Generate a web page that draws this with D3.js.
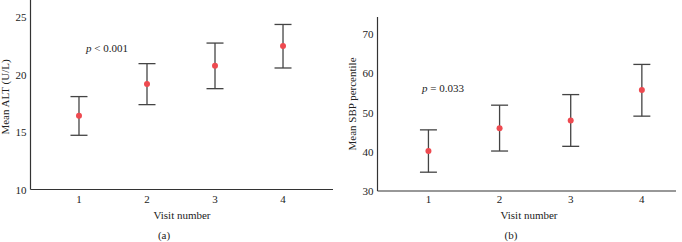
<!DOCTYPE html>
<html><head><meta charset="utf-8">
<script src="https://cdn.jsdelivr.net/npm/d3@7"></script>
<style>body{margin:0;background:#fff}svg{display:block}text{font-family:"Liberation Serif","DejaVu Serif",serif;fill:#222}</style>
</head><body><svg id="c" width="682" height="242"></svg>
<script>
const visits = [1, 2, 3, 4];
const altMean = [16.43, 19.19, 20.78, 22.49];
const altUpper = [18.09, 20.96, 22.75, 24.37];
const altLower = [14.72, 17.39, 18.78, 20.58];
const altTicks = [10, 15, 20, 25];
const sbpMean = [40.2, 46.0, 48.0, 55.8];
const sbpUpper = [45.6, 51.9, 54.6, 62.3];
const sbpLower = [34.8, 40.2, 41.4, 49.1];
const sbpTicks = [30, 40, 50, 60, 70];

const svg = d3.select("#c");

function panel(o) {
  const g = svg.append("g");
  const x = d3.scaleLinear().domain(o.xDomain).range([o.x0, o.x1]);
  const y = d3.scaleLinear().domain(o.yDomain).range([o.y0, o.y1]);
  // axes lines
  g.append("line").attr("x1", o.x0).attr("x2", o.x0).attr("y1", o.y0).attr("y2", o.y1).attr("stroke", "#333").attr("stroke-width", 1.2);
  g.append("line").attr("x1", o.x0).attr("x2", o.x1).attr("y1", o.y0).attr("y2", o.y0).attr("stroke", "#333").attr("stroke-width", 1.2);
  // tick labels
  g.selectAll(".yt").data(o.ticks).enter().append("text")
    .attr("x", o.x0 - 4).attr("y", d => y(d) + 4).attr("text-anchor", "end").attr("font-size", 11).text(d => d);
  g.selectAll(".xt").data(visits).enter().append("text")
    .attr("x", d => x(d)).attr("y", 203).attr("text-anchor", "middle").attr("font-size", 11).text(d => d);
  // error bars
  const cap = 8.5;
  const eb = g.selectAll(".eb").data(visits.map((v, i) => ({v, m: o.mean[i], u: o.upper[i], l: o.lower[i]}))).enter().append("g");
  eb.append("line").attr("x1", d => x(d.v)).attr("x2", d => x(d.v)).attr("y1", d => y(d.u)).attr("y2", d => y(d.l)).attr("stroke", "#444").attr("stroke-width", 1.3);
  eb.append("line").attr("x1", d => x(d.v) - cap).attr("x2", d => x(d.v) + cap).attr("y1", d => y(d.u)).attr("y2", d => y(d.u)).attr("stroke", "#444").attr("stroke-width", 1.3);
  eb.append("line").attr("x1", d => x(d.v) - cap).attr("x2", d => x(d.v) + cap).attr("y1", d => y(d.l)).attr("y2", d => y(d.l)).attr("stroke", "#444").attr("stroke-width", 1.3);
  eb.append("circle").attr("cx", d => x(d.v)).attr("cy", d => y(d.m)).attr("r", 3).attr("fill", "#ee4a50");
  // p text
  const pt = g.append("text").attr("x", o.px).attr("y", o.py).attr("font-size", 11);
  pt.append("tspan").attr("font-style", "italic").text("p");
  pt.append("tspan").text(o.ptext);
  // y label
  g.append("text").attr("transform", `translate(${o.ylx},${o.yly}) rotate(-90)`).attr("text-anchor", "middle").attr("font-size", 11).text(o.ylabel);
  // x label
  g.append("text").attr("x", o.xlx).attr("y", 219).attr("text-anchor", "middle").attr("font-size", 11).text("Visit number");
  g.append("text").attr("x", o.cx).attr("y", 239).attr("text-anchor", "middle").attr("font-size", 11).text(o.caption);
}

panel({x0: 30.5, x1: 333, y0: 189.5, y1: 0, xDomain: [0.287, 4.735], yDomain: [10, 26.5],
  ticks: altTicks, mean: altMean, upper: altUpper, lower: altLower,
  px: 86, py: 52, ptext: " < 0.001", ylabel: "Mean ALT (U/L)", ylx: 9, yly: 97, xlx: 182, cx: 164, caption: "(a)"});

panel({x0: 377.5, x1: 676, y0: 191, y1: 17, xDomain: [0.284, 4.48], yDomain: [30, 74.4],
  ticks: sbpTicks, mean: sbpMean, upper: sbpUpper, lower: sbpLower,
  px: 422, py: 92, ptext: " = 0.033", ylabel: "Mean SBP percentile", ylx: 356, yly: 104, xlx: 529, cx: 511, caption: "(b)"});
</script></body></html>
